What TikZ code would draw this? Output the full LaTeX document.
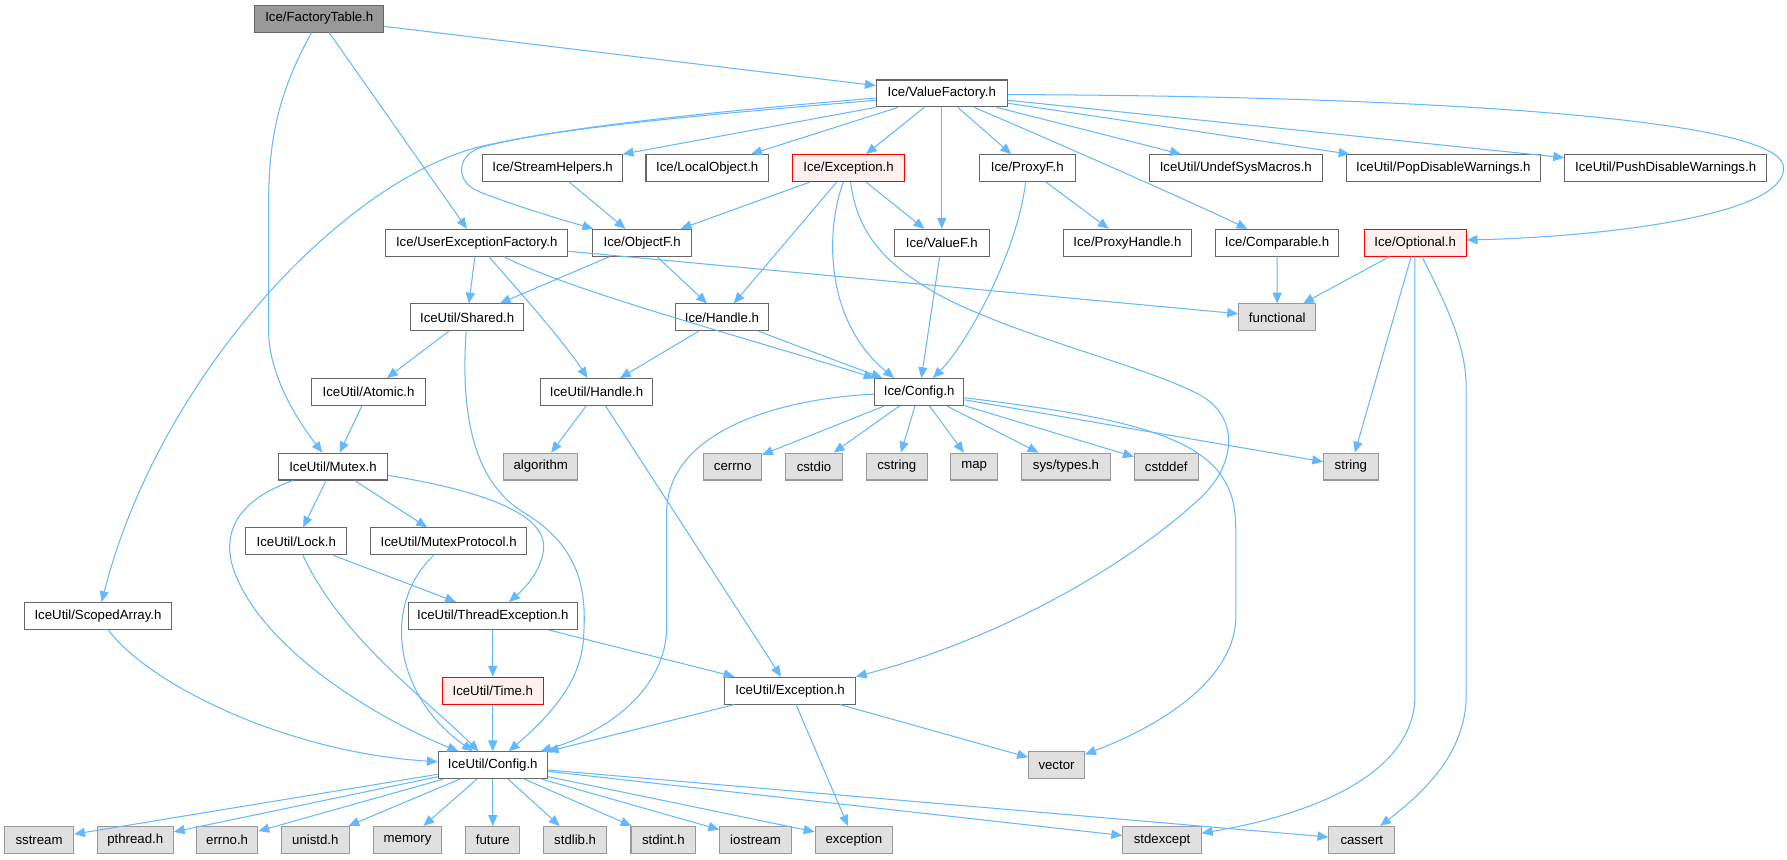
\documentclass[tikz,border=0pt]{standalone}
\usepackage{fontspec}
\setmainfont{Liberation Sans}
\usetikzlibrary{arrows.meta}
\definecolor{edgec}{HTML}{63B8FF}
\definecolor{nborder}{HTML}{666666}
\definecolor{gborder}{HTML}{999999}
\definecolor{gfill}{HTML}{E0E0E0}
\definecolor{rootfill}{HTML}{999999}
\definecolor{redfill}{HTML}{FFF0F0}
\begin{document}
\begin{tikzpicture}[x=1pt,y=-1pt,
  box/.style={draw=nborder, fill=white, line width=0.9pt, minimum height=23.6pt, inner sep=0pt, font=\fontsize{11.6}{13}\selectfont},
  sys/.style={box, draw=gborder, fill=gfill},
  root/.style={box, fill=rootfill},
  redb/.style={box, draw=red, fill=redfill},
  dep/.style={draw=edgec, line width=0.9pt, -{Triangle[length=9.5pt,width=8pt]}},
]
\fill[white] (0,0) rectangle (1568.1,753.8);
\useasboundingbox (0,0) rectangle (1568.1,753.8);

% nodes
\node[root, minimum width=113.2pt] (ft) at (280.2,16.3) {Ice/FactoryTable.h};
\node[box, minimum width=115pt] (vf) at (826.4,82) {Ice/ValueFactory.h};
\node[box, minimum width=122.2pt] (sh) at (484.9,147.5) {Ice/StreamHelpers.h};
\node[box, minimum width=107.5pt] (lo) at (620.6,147.5) {Ice/LocalObject.h};
\node[redb, minimum width=98.4pt] (ex) at (744.6,147.5) {Ice/Exception.h};
\node[box, minimum width=84.2pt] (pf) at (901.4,147.5) {Ice/ProxyF.h};
\node[box, minimum width=151.4pt] (us) at (1084.4,147.5) {IceUtil/UndefSysMacros.h};
\node[box, minimum width=170.6pt] (pop) at (1266.5,147.5) {IceUtil/PopDisableWarnings.h};
\node[box, minimum width=177.3pt] (push) at (1461.6,147.5) {IceUtil/PushDisableWarnings.h};
\node[box, minimum width=160.1pt] (uef) at (418.3,213) {Ice/UserExceptionFactory.h};
\node[box, minimum width=87.3pt] (of) at (563.5,213) {Ice/ObjectF.h};
\node[box, minimum width=83.3pt] (vff) at (826.4,213) {Ice/ValueF.h};
\node[box, minimum width=112.1pt] (ph) at (989.3,213) {Ice/ProxyHandle.h};
\node[box, minimum width=107.8pt] (cmp) at (1120.6,213) {Ice/Comparable.h};
\node[redb, minimum width=89.6pt] (opt) at (1241.8,213) {Ice/Optional.h};
\node[box, minimum width=99.7pt] (shr) at (409.9,278.5) {IceUtil/Shared.h};
\node[box, minimum width=81.6pt] (hnd) at (633.5,278.5) {Ice/Handle.h};
\node[sys, minimum width=67.9pt] (fun) at (1120.8,278.5) {functional};
\node[box, minimum width=99.4pt] (atm) at (323.4,344) {IceUtil/Atomic.h};
\node[box, minimum width=98.6pt] (uh) at (523.5,344) {IceUtil/Handle.h};
\node[box, minimum width=78.5pt] (cfg) at (806.6,344) {Ice/Config.h};
\node[box, minimum width=95.3pt] (mtx) at (292.2,409.4) {IceUtil/Mutex.h};
\node[sys, minimum width=65.2pt] (alg) at (474.5,409.4) {algorithm};
\node[sys, minimum width=50.7pt] (cerrno) at (642.9,409.4) {cerrno};
\node[sys, minimum width=49.7pt] (cstdio) at (714.3,409.4) {cstdio};
\node[sys, minimum width=53.4pt] (cstring) at (786.9,409.4) {cstring};
\node[sys, minimum width=40.7pt] (map) at (854.8,409.4) {map};
\node[sys, minimum width=78.9pt] (systypes) at (935.4,409.4) {sys/types.h};
\node[sys, minimum width=56.1pt] (cstddef) at (1023.4,409.4) {cstddef};
\node[sys, minimum width=48pt] (string) at (1185.4,409.4) {string};
\node[box, minimum width=88.3pt] (lock) at (260,475) {IceUtil/Lock.h};
\node[box, minimum width=137.4pt] (mp) at (393.7,475) {IceUtil/MutexProtocol.h};
\node[box, minimum width=129.6pt] (sa) at (86,540.5) {IceUtil/ScopedArray.h};
\node[box, minimum width=148.7pt] (te) at (432.4,540.5) {IceUtil/ThreadException.h};
\node[redb, minimum width=88.3pt] (tm) at (432.4,606) {IceUtil/Time.h};
\node[box, minimum width=114.5pt] (uex) at (693.3,606) {IceUtil/Exception.h};
\node[box, minimum width=95.7pt] (ucfg) at (432.4,671.5) {IceUtil/Config.h};
\node[sys, minimum width=49pt] (vec) at (927.1,671.5) {vector};
\node[sys, minimum width=60.5pt] (sstream) at (34.3,737) {sstream};
\node[sys, minimum width=66.8pt] (pthread) at (118.7,737) {pthread.h};
\node[sys, minimum width=54pt] (errno) at (199.3,737) {errno.h};
\node[sys, minimum width=59.8pt] (unistd) at (276.7,737) {unistd.h};
\node[sys, minimum width=60.4pt] (memory) at (357.6,737) {memory};
\node[sys, minimum width=47.3pt] (future) at (432.4,737) {future};
\node[sys, minimum width=55.7pt] (stdlib) at (504.7,737) {stdlib.h};
\node[sys, minimum width=56.8pt] (stdint) at (582.1,737) {stdint.h};
\node[sys, minimum width=62.8pt] (iostream) at (663,737) {iostream};
\node[sys, minimum width=68.2pt] (exception) at (749.3,737) {exception};
\node[sys, minimum width=69pt] (stdexcept) at (1019.7,737) {stdexcept};
\node[sys, minimum width=57.8pt] (cassert) at (1195,737) {cassert};

% edges
\draw[dep] (ft) -- (vf);
\draw[dep] (ft) -- (uef);
\draw[dep] (ft) .. controls (245,80) and (235.7,120) .. (235.7,180) -- (235.7,290) .. controls (235.7,330) and (262,370) .. (mtx);

\draw[dep] ([yshift=-4pt]vf.west) .. controls (650,96) and (500,110) .. (420,129) .. controls (300,160) and (140,330) .. (sa);
\draw[dep] ([yshift=-6pt]vf.west) .. controls (650,98) and (480,112) .. (420,130) .. controls (400,138) and (400,160) .. (420,168) .. controls (450,180) and (490,192) .. (of);
\draw[dep] (vf.south west) -- (sh.north east);
\draw[dep] (vf) -- (lo);
\draw[dep] (vf) -- (ex);
\draw[dep] (vf) -- (vff);
\draw[dep] (vf) -- (pf);
\draw[dep] (vf) .. controls (950,135) and (1040,175) .. (cmp);
\draw[dep] (vf) -- (us);
\draw[dep] (vf) -- (pop);
\draw[dep] (vf) -- (push);
\draw[dep] ([yshift=-1pt]vf.east) .. controls (1200,84) and (1560,100) .. (1565,146) .. controls (1570,190) and (1400,208) .. ([yshift=2.4pt]opt.east);

\draw[dep] (sh) -- (of);
\draw[dep] (ex) -- (of);
\draw[dep] (ex) -- (hnd);
\draw[dep] (ex) .. controls (725,200) and (722,280) .. ([xshift=-22pt]cfg.north);
\draw[dep] (ex) -- (vff);
\draw[dep] (ex) .. controls (752,200) and (770,230) .. (830,262) .. controls (900,297) and (1000,320) .. (1050,345) .. controls (1090,365) and (1085,410) .. (1050,440) .. controls (990,495) and (880,560) .. (uex.north east);
\draw[dep] (pf) -- (ph);
\draw[dep] (pf) .. controls (893,220) and (850,300) .. (cfg);
\draw[dep] (vff) -- (cfg);
\draw[dep] (cmp) -- (fun);
\draw[dep] (opt) -- (fun);
\draw[dep] (opt) -- (string);
\draw[dep] ([xshift=-0.2pt]opt.south) -- (1241.6,610) .. controls (1241.6,680) and (1150,715) .. (stdexcept);
\draw[dep] (opt) .. controls (1265,260) and (1286.6,300) .. (1286.6,340) -- (1286.6,610) .. controls (1286.6,660) and (1250,695) .. (cassert);

\draw[dep] (uef) -- (shr);
\draw[dep] (uef) .. controls (455,255) and (495,300) .. (uh);
\draw[dep] (uef) .. controls (500,255) and (650,295) .. (cfg);
\draw[dep] (uef) -- (fun);
\draw[dep] (of) -- (shr);
\draw[dep] (of) -- (hnd);
\draw[dep] (shr) -- (atm);
\draw[dep] (shr) .. controls (405,350) and (410,420) .. (460,450) .. controls (510,480) and (515,520) .. (512,560) .. controls (510,600) and (480,630) .. (ucfg);
\draw[dep] (atm) -- (mtx);
\draw[dep] (hnd) -- (uh);
\draw[dep] (hnd) -- (cfg);
\draw[dep] (uh) -- (alg);
\draw[dep] (uh) -- (uex);
\foreach \t in {cerrno,cstdio,cstring,map,systypes,cstddef,string} \draw[dep] (cfg) -- (\t);
\draw[dep] (cfg) .. controls (950,362) and (1040,375) .. (1070,415) .. controls (1084.5,435) and (1084.5,450) .. (1084.5,480) -- (1084.5,540) .. controls (1084.5,600) and (1010,640) .. (vec);
\draw[dep] (cfg) .. controls (680,350) and (585,380) .. (585,450) -- (585,550) .. controls (585,600) and (540,640) .. (ucfg);
\draw[dep] (mtx) -- (lock);
\draw[dep] (mtx) -- (mp);
\draw[dep] (mtx) .. controls (420,430) and (480,450) .. (477,482) .. controls (475,500) and (462,515) .. (te);
\draw[dep] (mtx) .. controls (205,440) and (195,470) .. (205,500) .. controls (230,570) and (330,630) .. (ucfg);
\draw[dep] (lock) -- (te);
\draw[dep] (lock) .. controls (300,560) and (370,610) .. (ucfg);
\draw[dep] (mp) .. controls (335,530) and (345,610) .. (ucfg);
\draw[dep] (sa) .. controls (130,600) and (250,660) .. (ucfg);
\draw[dep] (te) -- (tm);
\draw[dep] (te) -- (uex);
\draw[dep] (tm) -- (ucfg);
\draw[dep] (uex) -- (ucfg);
\draw[dep] (uex) -- (exception);
\draw[dep] (uex) -- (vec);
\foreach \t in {sstream,pthread,errno,unistd,memory,future,stdlib,stdint,iostream,exception,stdexcept,cassert} \draw[dep] (ucfg) -- (\t);
\end{tikzpicture}
\end{document}
